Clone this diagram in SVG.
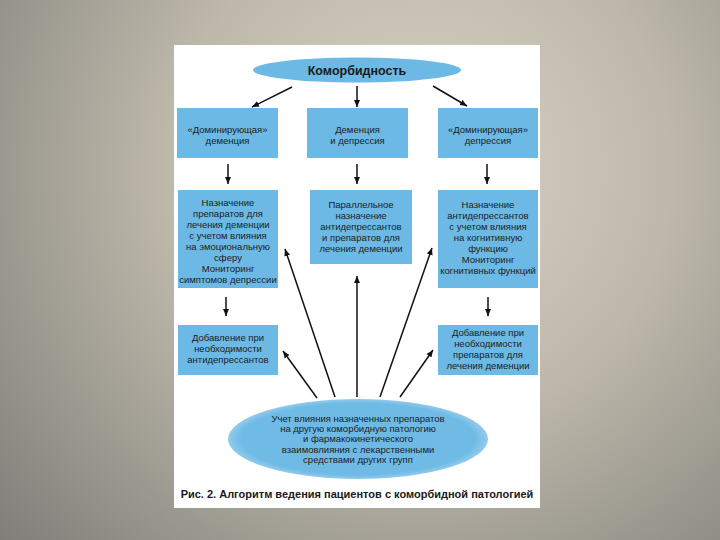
<svg xmlns="http://www.w3.org/2000/svg" width="720" height="540" viewBox="0 0 720 540">
  <defs>
    <radialGradient id="bg" cx="420" cy="170" r="560" gradientUnits="userSpaceOnUse">
      <stop offset="0" stop-color="#d9d4c4"/>
      <stop offset="0.45" stop-color="#bdb8aa"/>
      <stop offset="1" stop-color="#7f7e79"/>
    </radialGradient>
    <radialGradient id="ell" cx="0.5" cy="0.5" r="0.5">
      <stop offset="0" stop-color="#6cb9e5"/>
      <stop offset="0.9" stop-color="#70bbe6"/>
      <stop offset="1" stop-color="#92cbec"/>
    </radialGradient>
    <marker id="ah" markerUnits="userSpaceOnUse" markerWidth="8" markerHeight="8" refX="7" refY="4" orient="auto">
      <path d="M0,1 L7,4 L0,7 Z" fill="#111"/>
    </marker>
  </defs>
  <style>
    .box { fill: #6cb9e5; }
    .t { font-family: "Liberation Sans", Arial, sans-serif; font-size: 9.5px; fill: #1c1c1c; text-anchor: middle; }
    .tb { font-family: "Liberation Sans", Arial, sans-serif; font-weight: bold; fill: #1a1a1a; }
    .c line { stroke: #111; stroke-width: 1.5; marker-end: url(#ah); }
  </style>
  <rect x="0" y="0" width="720" height="540" fill="url(#bg)"/>
  <rect x="174" y="45" width="366" height="463" fill="#ffffff"/>

  <g id="n-comorbidity">
    <ellipse cx="357" cy="70" rx="104" ry="12.5" class="box"/>
    <text class="tb" x="357" y="75" font-size="12.5" text-anchor="middle">Коморбидность</text>
  </g>

  <g id="n-dom-dementia">
    <rect x="177" y="108" width="101" height="50" class="box"/>
    <text class="t" x="227.5" y="133">«Доминирующая»</text>
    <text class="t" x="227.5" y="144">деменция</text>
  </g>
  <g id="n-dem-dep">
    <rect x="307" y="108" width="101" height="50" class="box"/>
    <text class="t" x="357.5" y="133">Деменция</text>
    <text class="t" x="357.5" y="144">и депрессия</text>
  </g>
  <g id="n-dom-depression">
    <rect x="438" y="108" width="100" height="50" class="box"/>
    <text class="t" x="488" y="133">«Доминирующая»</text>
    <text class="t" x="488" y="144">депрессия</text>
  </g>

  <g id="n-left2">
    <rect x="178" y="190" width="100" height="98" class="box"/>
    <text class="t" x="228" y="206">Назначение</text>
    <text class="t" x="228" y="217">препаратов для</text>
    <text class="t" x="228" y="228">лечения деменции</text>
    <text class="t" x="228" y="239">с учетом влияния</text>
    <text class="t" x="228" y="250">на эмоциональную</text>
    <text class="t" x="228" y="261">сферу</text>
    <text class="t" x="228" y="272">Мониторинг</text>
    <text class="t" x="228" y="283">симптомов депрессии</text>
  </g>
  <g id="n-mid2">
    <rect x="310" y="190" width="102" height="74" class="box"/>
    <text class="t" x="361" y="208">Параллельное</text>
    <text class="t" x="361" y="219">назначение</text>
    <text class="t" x="361" y="230">антидепрессантов</text>
    <text class="t" x="361" y="241">и препаратов для</text>
    <text class="t" x="361" y="252">лечения деменции</text>
  </g>
  <g id="n-right2">
    <rect x="438" y="190" width="100" height="98" class="box"/>
    <text class="t" x="488" y="208">Назначение</text>
    <text class="t" x="488" y="219">антидепрессантов</text>
    <text class="t" x="488" y="230">с учетом влияния</text>
    <text class="t" x="488" y="241">на когнитивную</text>
    <text class="t" x="488" y="252">функцию</text>
    <text class="t" x="488" y="263">Мониторинг</text>
    <text class="t" x="488" y="274">когнитивных функций</text>
  </g>

  <g id="n-left3">
    <rect x="178" y="325" width="100" height="50" class="box"/>
    <text class="t" x="228" y="341">Добавление при</text>
    <text class="t" x="228" y="352">необходимости</text>
    <text class="t" x="228" y="363">антидепрессантов</text>
  </g>
  <g id="n-right3">
    <rect x="438" y="325" width="100" height="50" class="box"/>
    <text class="t" x="488" y="336">Добавление при</text>
    <text class="t" x="488" y="347">необходимости</text>
    <text class="t" x="488" y="358">препаратов для</text>
    <text class="t" x="488" y="369">лечения деменции</text>
  </g>

  <g id="n-bottom">
    <ellipse cx="358" cy="439" rx="130" ry="40" fill="url(#ell)"/>
    <text class="t" x="358" y="422" font-size="9">Учет влияния назначенных препаратов</text>
    <text class="t" x="358" y="432" font-size="9">на другую коморбидную патологию</text>
    <text class="t" x="358" y="442" font-size="9">и фармакокинетического</text>
    <text class="t" x="358" y="453" font-size="9">взаимовлияния с лекарственными</text>
    <text class="t" x="358" y="463" font-size="9">средствами других групп</text>
  </g>

  <g id="connectors" class="c">
    <line x1="292" y1="87" x2="252" y2="107"/>
    <line x1="357" y1="86" x2="357" y2="107"/>
    <line x1="433" y1="86" x2="467" y2="106"/>
    <line x1="228" y1="164" x2="228" y2="184"/>
    <line x1="357" y1="164" x2="357" y2="184"/>
    <line x1="487" y1="164" x2="487" y2="184"/>
    <line x1="226" y1="297" x2="226" y2="316"/>
    <line x1="488" y1="297" x2="488" y2="316"/>
    <line x1="335" y1="397" x2="285" y2="249"/>
    <line x1="317" y1="398" x2="283" y2="351"/>
    <line x1="357" y1="397" x2="357" y2="276"/>
    <line x1="380" y1="397" x2="432" y2="248"/>
    <line x1="400" y1="397" x2="433" y2="350"/>
  </g>

  <text class="tb" x="357" y="498" font-size="11" text-anchor="middle">Рис. 2. Алгоритм ведения пациентов с коморбидной патологией</text>
</svg>
